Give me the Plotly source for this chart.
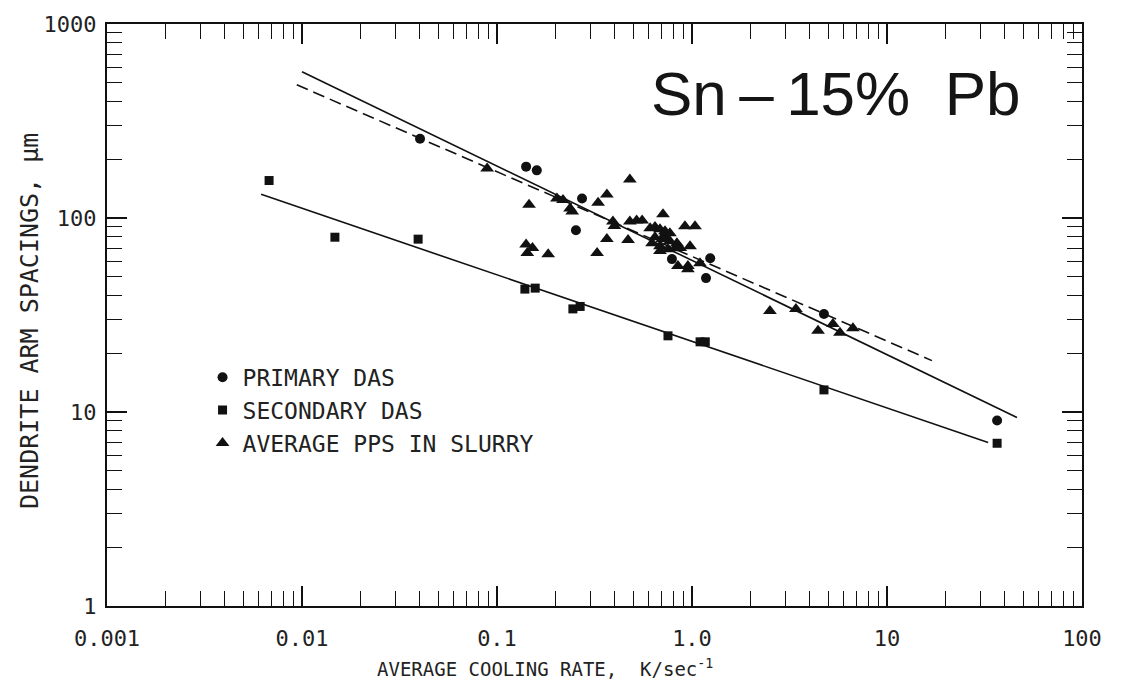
import plotly.graph_objects as go

# ---------------- data ----------------
primary_x = [0.0403, 0.141, 0.160, 0.273, 0.254, 0.789, 0.72, 1.24, 1.18, 4.75, 36.7]
primary_y = [256, 184, 176, 126, 86.5, 61.4, 80, 62, 49, 32, 9.04]

secondary_x = [0.00678, 0.01475, 0.0394, 0.139, 0.157, 0.245, 0.267, 0.753, 1.10, 1.17, 4.75, 36.7]
secondary_y = [156, 79.6, 77.8, 43, 43.5, 34, 35, 24.7, 23, 23, 13.0, 6.9]

pps_x = [0.089, 0.146, 0.141, 0.143, 0.152, 0.183, 0.203, 0.218, 0.237, 0.243,
         0.326, 0.33, 0.366, 0.393, 0.40, 0.366, 0.47, 0.48, 0.48, 0.52, 0.555,
         0.71, 0.61, 0.646, 0.685, 0.727, 0.77, 0.646, 0.702, 0.771, 0.837, 0.624,
         0.685, 0.753, 0.818, 0.685, 0.92, 1.036, 0.977, 0.87,
         0.847, 0.953, 1.099, 0.953,
         2.51, 3.41, 4.43, 5.28, 5.74, 6.69]
pps_y = [180, 117, 73, 66, 70, 65, 126, 124, 112, 108,
         66, 120, 132, 96, 91, 78, 77, 158, 96, 97, 97,
         104.5, 88.5, 90, 87.5, 85.5, 83.4, 79.6, 77.8, 75.9, 74.1, 74.1,
         71.6, 69.1, 69.9, 67.5, 90.6, 90.6, 71.6, 70,
         56.5, 56.5, 58.5, 54.5,
         33.2, 34, 26.2, 28.4, 25.6, 27]

# fitted lines (end points)
fit_primary_x = [0.01, 46.4]
fit_primary_y = [567, 9.36]
fit_pps_x = [0.0094, 17.0]
fit_pps_y = [486, 18.4]
fit_secondary_x = [0.00617, 33.0]
fit_secondary_y = [132.4, 6.97]

x_major = [0.001, 0.01, 0.1, 1, 10, 100]
x_major_text = ["0.001", "0.01", "0.1", "1.0", "10", "100"]
y_major = [1, 10, 100, 1000]
y_major_text = ["1", "10", "100", "1000"]

# ---------------- figure ----------------
INK = "#111111"
fig = go.Figure()

fig.add_trace(go.Scatter(x=fit_primary_x, y=fit_primary_y, mode="lines",
                         line=dict(color=INK, width=1.6), showlegend=False, hoverinfo="skip"))
fig.add_trace(go.Scatter(x=fit_pps_x, y=fit_pps_y, mode="lines",
                         line=dict(color=INK, width=1.6, dash="12px,6px"), showlegend=False, hoverinfo="skip"))
fig.add_trace(go.Scatter(x=fit_secondary_x, y=fit_secondary_y, mode="lines",
                         line=dict(color=INK, width=1.6), showlegend=False, hoverinfo="skip"))

fig.add_trace(go.Scatter(x=primary_x, y=primary_y, mode="markers", name="PRIMARY DAS",
                         marker=dict(symbol="circle", size=10, color=INK)))
fig.add_trace(go.Scatter(x=secondary_x, y=secondary_y, mode="markers", name="SECONDARY DAS",
                         marker=dict(symbol="square", size=9, color=INK)))
fig.add_trace(go.Scatter(x=pps_x, y=pps_y, mode="markers", name="AVERAGE PPS IN SLURRY",
                         marker=dict(symbol="triangle-up", size=12, color=INK)))

x_minor = [m * d for d in [0.001, 0.01, 0.1, 1, 10] for m in range(2, 10)]
y_minor = [m * d for d in [1, 10, 100] for m in range(2, 10)]

tick_font = dict(family="DejaVu Sans Mono", size=22, color="#222222")
axis_common = dict(showline=True, linewidth=2, linecolor=INK, mirror="ticks",
                   ticks="inside", ticklen=20, tickwidth=1.6, tickcolor=INK,
                   showgrid=False, zeroline=False, tickfont=tick_font)

fig.update_xaxes(type="log", range=[-3, 2], tickmode="array", tickvals=x_major, ticktext=x_major_text,
                 minor=dict(tickmode="array", tickvals=x_minor, ticks="inside", ticklen=15,
                            tickwidth=1.4, tickcolor=INK, showgrid=False),
                 ticklabelstandoff=12, **axis_common)
fig.update_yaxes(type="log", range=[0, 3], tickmode="array", tickvals=y_major, ticktext=y_major_text,
                 minor=dict(tickmode="array", tickvals=y_minor, ticks="inside", ticklen=15,
                            tickwidth=1.4, tickcolor=INK, showgrid=False),
                 ticklabelstandoff=4, **axis_common)

fig.update_layout(
    width=1128, height=691,
    margin=dict(l=107, r=46, t=22, b=85),
    paper_bgcolor="white", plot_bgcolor="white",
    showlegend=True,
    legend=dict(x=0.098, y=0.430, xanchor="left", yanchor="top",
                bgcolor="rgba(0,0,0,0)", borderwidth=0, itemwidth=30,
                font=dict(family="DejaVu Sans Mono", size=23, color="#222222"),
                tracegroupgap=0),
    annotations=[
        dict(text="Sn\u2009\u2013\u200915%  Pb", xref="paper", yref="paper", x=0.748, y=0.88,
             xanchor="center", yanchor="middle", showarrow=False,
             font=dict(family="Liberation Sans", size=62, color="#151515")),
        dict(text="AVERAGE COOLING RATE,  K/sec<sup>-1</sup>", xref="paper", yref="paper",
             x=(545 - 107) / 975, y=-(668 - 606) / 584, xanchor="center", yanchor="middle",
             showarrow=False, font=dict(family="DejaVu Sans Mono", size=19, color="#222222")),
        dict(text="DENDRITE ARM SPACINGS, \u00b5m", xref="paper", yref="paper",
             x=-(107 - 30) / 975, y=(606 - 320) / 584, xanchor="center", yanchor="middle",
             textangle=-90, showarrow=False,
             font=dict(family="DejaVu Sans Mono", size=25, color="#222222")),
    ],
)

fig.write_html("out.html")
